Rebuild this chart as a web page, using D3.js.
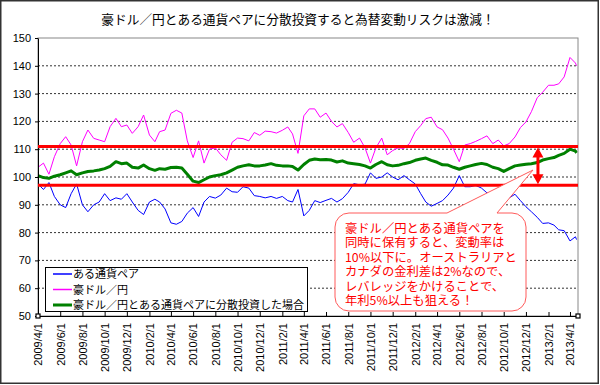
<!DOCTYPE html>
<html>
<head>
<meta charset="utf-8">
<script src="https://cdnjs.cloudflare.com/ajax/libs/d3/7.8.5/d3.min.js"></script>
<style>
body { margin:0; background:#fff; }
</style>
</head>
<body>
<svg id="chart" width="600" height="385"></svg>
<script>
var title = "豪ドル／円とある通貨ペアに分散投資すると為替変動リスクは激減！";
var seriesNames = ["ある通貨ペア", "豪ドル／円", "豪ドル／円とある通貨ペアに分散投資した場合"];
var tickLabels = ["2009/4/1","2009/6/1","2009/8/1","2009/10/1","2009/12/1","2010/2/1","2010/4/1","2010/6/1",
                  "2010/8/1","2010/10/1","2010/12/1","2011/2/1","2011/4/1","2011/6/1","2011/8/1","2011/10/1",
                  "2011/12/1","2012/2/1","2012/4/1","2012/6/1","2012/8/1","2012/10/1","2012/12/1","2013/2/1","2013/4/1"];
var yTicks = [50, 60, 70, 80, 90, 100, 110, 120, 130, 140, 150];

// values, 1st and 16th of each month (last point 2013/4/19)
var blueValues = [97.5,95.5,98,93,90,89,94,97.5,90,87.5,90,91,94,91.5,92.5,92,94,91,88,86.5,91,92,91,88.5,83.5,
                  83,84,87,89,85.8,91,93,92.4,93.5,96,94.7,94.5,96.5,96,93.3,93,92.5,93,92.3,93,91.5,91,95.5,86,
                  88,91.5,90.8,91.6,92.3,91,92.2,94.5,97.6,97.2,97.4,101.5,99.5,100,101.5,100,99,100.5,99,97.5,94,
                  91,89.5,90.5,91.5,93.5,96,100.5,96.5,96.5,97,96,94.3,93.5,91.8,92.3,92.5,93.8,91.5,89.3,87.5,
                  85.5,83.3,83.5,82.7,81,80.7,77,78.5,77.5];
var pinkValues = [103.5,105,101,107.3,112,114.5,111.5,104,112.7,116.9,113.9,113.3,112.7,118.1,121.1,118.1,118.7,
                  115.7,118.1,122.3,115.1,112.7,116.3,116.9,122.9,124,123,113,107,113,105,110,110.5,108,106,112.5,
                  114,113.8,113,116,115,116.5,116.3,115.8,116.8,118,115.5,108.5,122,124.5,124.5,121.5,123,120,118,
                  119.2,116,112.5,114,110.5,105,110.5,114,108,109.5,110.5,110.3,112,116.3,118.5,121,121.5,118,117,
                  114,110,105.5,111.5,112,112.8,113.8,114.8,112,113.3,111.2,112,114.4,117.8,119.8,123.5,128.5,
                  130.5,133,133,133.5,136,143,141,140];
var greenValues = [100.5,99.8,99.5,100.3,100.8,101.5,102.2,100.8,101.5,102,102.2,102.5,103,103.8,105.5,104.8,105,
                   103.5,103.2,104.3,103,102.4,103,102.8,103.4,103.5,103.2,101,98.5,98,99,100,100.5,100.8,101.5,
                   102.5,103.5,104,104.4,104,104,104.3,104.8,104.2,104,104,103.8,102.5,104.5,106,106.5,106.2,106.3,
                   106.1,105.4,105.8,105,104.8,104.5,104,103.2,104.5,105.5,104.4,104,104.2,104.8,105.2,106,106.5,
                   106.8,106,105.3,104.4,104.3,103.5,102.8,103.5,104,104.5,104.9,104.5,103.5,103,102,103,104,104.3,
                   104.6,104.8,105.2,106.1,106.6,107,107.8,108.5,110,109.3,108.7];
var bandValues = [97, 111];
var calloutLines = ["豪ドル／円とある通貨ペアを", "同時に保有すると、変動率は", "10%以下に。オーストラリアと",
                    "カナダの金利差は2%なので、", "レバレッジをかけることで、", "年利5%以上も狙える！"];

var jp = "'Noto Sans CJK JP', sans-serif";
var num = "'Liberation Sans', Arial, sans-serif";
var parse = d3.timeParse("%Y/%m/%d");

var dates = [];
d3.timeMonth.range(parse("2009/4/1"), parse("2013/5/1")).forEach(function(m) {
    dates.push(m);
    dates.push(d3.timeDay.offset(m, 15));
});
dates.push(parse("2013/4/19"));

var svg = d3.select("#chart");

//Plot area
var plotL = 38, plotR = 578, plotT = 38, plotB = 316;
var x = d3.scaleTime().domain([parse("2009/4/1"), parse("2013/4/23")]).range([plotL, plotR]);
var y = d3.scaleLinear().domain([50, 150]).range([plotB, plotT]);

//Outer frame
svg.append("rect").attr("x", 0.75).attr("y", 0.75).attr("width", 597.5).attr("height", 382.5)
   .attr("fill", "white").attr("stroke", "#333").attr("stroke-width", 1.5);

svg.append("text").attr("x", 298).attr("y", 24).attr("text-anchor", "middle")
   .attr("font-family", jp).attr("font-size", 12.7).attr("fill", "#000").text(title);

//Gridlines
svg.append("g").selectAll("line")
   .data(yTicks.filter(function(d) { return d > 50 && d < 150; }))
   .enter().append("line")
   .attr("x1", plotL).attr("x2", plotR)
   .attr("y1", function(d) { return y(d); }).attr("y2", function(d) { return y(d); })
   .attr("stroke", "#333").attr("stroke-width", 1).attr("stroke-dasharray", "2,2");

//Series
var series = [
    {vals: blueValues, color: "#0000ff", w: 1},
    {vals: pinkValues, color: "#ff00ff", w: 1},
    {vals: greenValues, color: "#008000", w: 3}
];
var line = d3.line().x(function(d) { return x(d[0]); }).y(function(d) { return y(d[1]); });
series.forEach(function(s) {
    svg.append("path")
       .attr("d", line(d3.zip(dates, s.vals)))
       .attr("fill", "none").attr("stroke", s.color).attr("stroke-width", s.w)
       .attr("stroke-linejoin", "round");
});

//Plot border
svg.append("rect").attr("x", plotL).attr("y", plotT).attr("width", plotR - plotL).attr("height", plotB - plotT)
   .attr("fill", "none").attr("stroke", "#888").attr("stroke-width", 1);

//Axes
var yAxis = svg.append("g").attr("transform", "translate(" + plotL + ",0)")
   .call(d3.axisLeft(y).tickValues(yTicks).tickSizeInner(3).tickSizeOuter(0).tickPadding(4));
yAxis.selectAll("text").attr("font-family", num).attr("font-size", 11).attr("fill", "#000");

var tickDates = tickLabels.map(parse);
var xAxis = svg.append("g").attr("transform", "translate(0," + plotB + ")")
   .call(d3.axisBottom(x).tickValues(tickDates).tickSizeInner(-4).tickSizeOuter(0)
           .tickFormat(function(d, i) { return tickLabels[i]; }));
xAxis.selectAll("text")
     .attr("font-family", num).attr("font-size", 11).attr("fill", "#000")
     .attr("transform", "rotate(-90)").attr("text-anchor", "end")
     .attr("x", -7).attr("y", 0).attr("dy", "0.35em");
svg.selectAll(".domain").attr("stroke", "#000");

//Little corner markers
[plotL, plotR].forEach(function(px) {
    svg.append("rect").attr("x", px - 2).attr("y", plotB - 2).attr("width", 4).attr("height", 4)
       .attr("fill", "white").attr("stroke", "#000").attr("stroke-width", 1.2);
});

//Red band lines
svg.append("g").selectAll("line").data(bandValues).enter().append("line")
   .attr("x1", plotL).attr("x2", plotR)
   .attr("y1", function(d) { return y(d); }).attr("y2", function(d) { return y(d); })
   .attr("stroke", "#ff0000").attr("stroke-width", 3);

//Double arrow between the bands
var ax = x(parse("2013/1/3"));
var yTop = y(bandValues[1]) + 1, yBot = y(bandValues[0]) - 1;
svg.append("line").attr("x1", ax).attr("x2", ax).attr("y1", yTop + 8).attr("y2", yBot - 8)
   .attr("stroke", "#ff0000").attr("stroke-width", 3);
svg.append("path").attr("fill", "#ff0000")
   .attr("d", "M" + ax + "," + yTop + "L" + (ax - 5.5) + "," + (yTop + 10) + "L" + (ax + 5.5) + "," + (yTop + 10) + "Z" +
              "M" + ax + "," + yBot + "L" + (ax - 5.5) + "," + (yBot - 10) + "L" + (ax + 5.5) + "," + (yBot - 10) + "Z");

//Legend
var lg = svg.append("g");
lg.append("rect").attr("x", 45.5).attr("y", 267.5).attr("width", 262).attr("height", 44)
  .attr("fill", "white").attr("stroke", "#000").attr("stroke-width", 1);
series.forEach(function(s, i) {
    var ly = 274 + i * 15.5;
    lg.append("line").attr("x1", 53).attr("x2", 72).attr("y1", ly).attr("y2", ly)
      .attr("stroke", s.color).attr("stroke-width", i == 2 ? 3 : 1.5);
    lg.append("text").attr("x", 73).attr("y", ly + 4).attr("font-family", jp).attr("font-size", 11)
      .attr("fill", "#000").text(seriesNames[i]);
});

//Callout balloon
var bx0 = 335, bx1 = 526, by0 = 213, by1 = 311, r = 14;
var tip = [533, 170];
var p = d3.path();
p.moveTo(447, by0);
p.lineTo(tip[0], tip[1]);
p.lineTo(497, by0);
p.lineTo(bx1 - r, by0);
p.arcTo(bx1, by0, bx1, by0 + r, r);
p.lineTo(bx1, by1 - r);
p.arcTo(bx1, by1, bx1 - r, by1, r);
p.lineTo(bx0 + r, by1);
p.arcTo(bx0, by1, bx0, by1 - r, r);
p.lineTo(bx0, by0 + r);
p.arcTo(bx0, by0, bx0 + r, by0, r);
p.closePath();
svg.append("path").attr("d", p.toString()).attr("fill", "white")
   .attr("stroke", "#ff5a5a").attr("stroke-width", 1);

svg.append("g").selectAll("text").data(calloutLines).enter().append("text")
   .attr("x", 345).attr("y", function(d, i) { return 233 + i * 14.4; })
   .attr("font-family", jp).attr("font-size", 12.3).attr("fill", "#ff0000")
   .text(function(d) { return d; });
</script>
</body>
</html>
